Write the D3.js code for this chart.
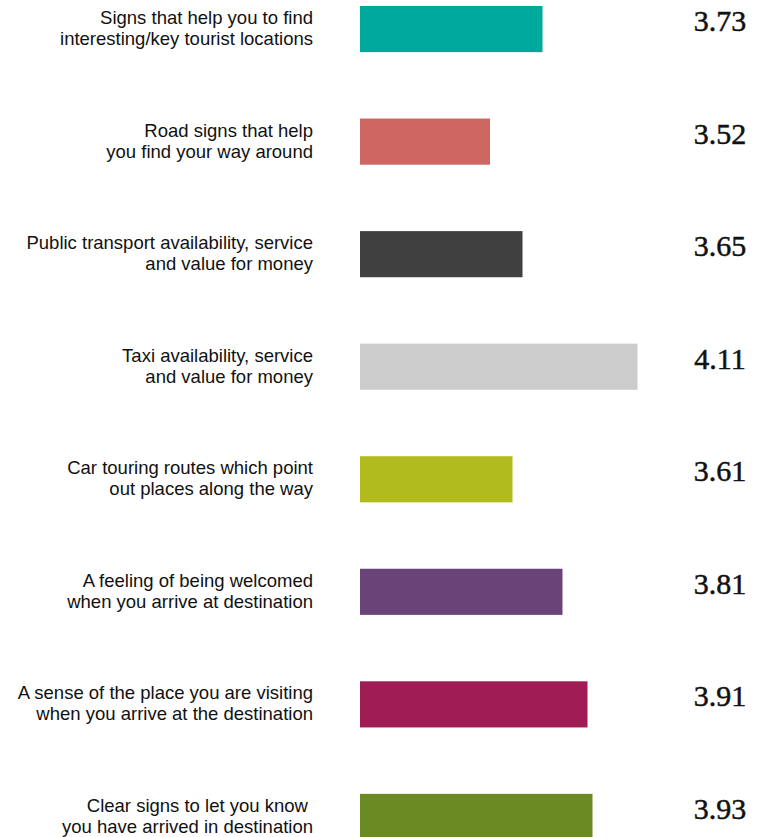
<!DOCTYPE html>
<html>
<head>
<meta charset="utf-8">
<script src="https://cdn.jsdelivr.net/npm/d3@7"></script>
<style>
  body { margin: 0; background: #fff; }
  svg { display: block; }
</style>
</head>
<body>
<div id="container"></div>
<script>
// DATA
const labelLines = [
  ["Signs that help you to find", "interesting/key tourist locations"],
  ["Road signs that help", "you find your way around"],
  ["Public transport availability, service", "and value for money"],
  ["Taxi availability, service", "and value for money"],
  ["Car touring routes which point", "out places along the way"],
  ["A feeling of being welcomed", "when you arrive at destination"],
  ["A sense of the place you are visiting", "when you arrive at the destination"],
  ["Clear signs to let you know ", "you have arrived in destination"]
];
const scores = [3.73, 3.52, 3.65, 4.11, 3.61, 3.81, 3.91, 3.93];
const barColors = ["#00a99d", "#cd6660", "#404040", "#cccccc", "#b2bb1e", "#6a4479", "#a01c55", "#6b8a23"];

const width = 769, height = 837;

const svg = d3.select("#container")
  .append("svg")
  .attr("width", width)
  .attr("height", height);

const rows = d3.range(scores.length);

// scales - bars start at 3
const xScale = d3.scaleLinear()
  .domain([3, 4])
  .range([360, 610]);

const yScale = d3.scaleBand()
  .domain(rows)
  .range([6, 840])
  .paddingInner(0.59)
  .paddingOuter(0);

const mid = i => yScale(i) + yScale.bandwidth() / 2;

// bars
svg.selectAll("rect.bar")
  .data(rows)
  .join("rect")
  .attr("class", "bar")
  .attr("x", xScale(3))
  .attr("y", i => yScale(i))
  .attr("width", i => xScale(scores[i]) - xScale(3))
  .attr("height", yScale.bandwidth())
  .attr("fill", i => barColors[i]);

// category labels, two lines each, right aligned
const labels = svg.selectAll("text.cat")
  .data(rows)
  .join("text")
  .attr("class", "cat")
  .attr("text-anchor", "end")
  .attr("font-family", "'Liberation Sans', Arial, sans-serif")
  .attr("font-size", 18.5)
  .attr("fill", "#111");

labels.selectAll("tspan")
  .data(i => labelLines[i].map((t, k) => ({ t, k, i })))
  .join("tspan")
  .attr("x", 313)
  .attr("y", d => mid(d.i) + (d.k === 0 ? -5 : 16))
  .text(d => d.t);

// value labels
svg.selectAll("text.val")
  .data(rows)
  .join("text")
  .attr("class", "val")
  .attr("x", 720)
  .attr("y", i => mid(i) + 2)
  .attr("text-anchor", "middle")
  .attr("font-family", "'Liberation Serif', 'Times New Roman', serif")
  .attr("font-size", 30)
  .attr("fill", "#111")
  .attr("stroke", "#111")
  .attr("stroke-width", 0.5)
  .text(i => scores[i].toFixed(2));
</script>
</body>
</html>
